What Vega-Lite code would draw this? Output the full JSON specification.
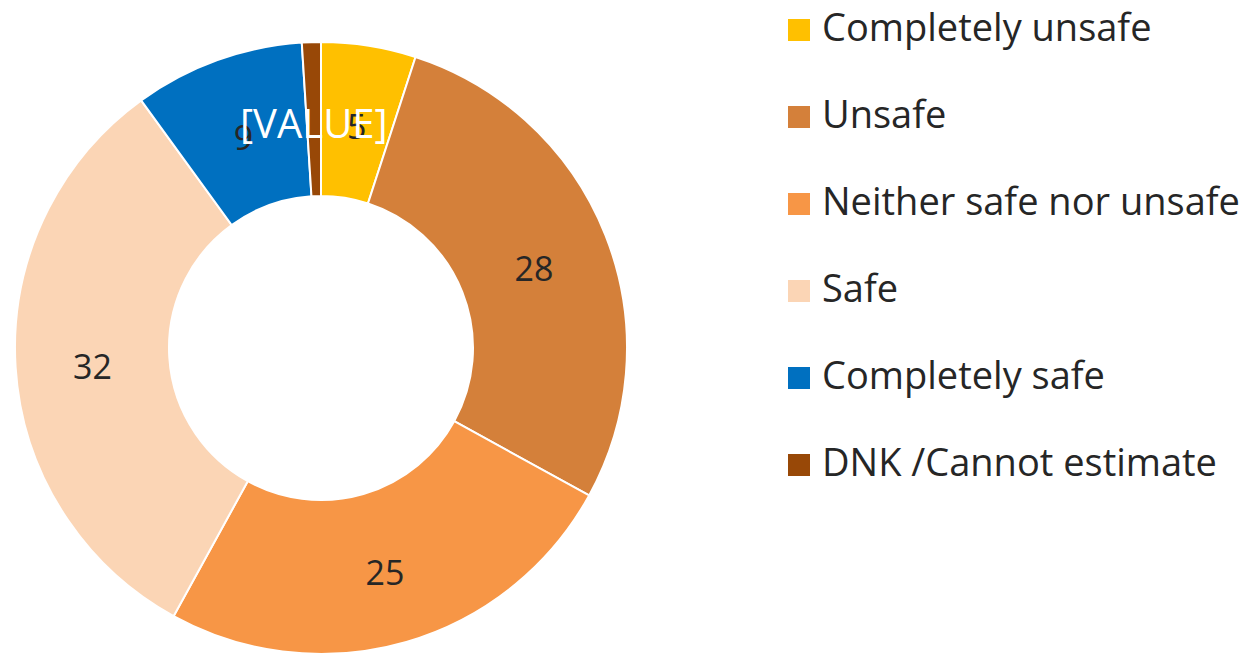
{
  "$schema": "https://vega.github.io/schema/vega-lite/v6.json",
  "width": 642,
  "height": 696,
  "padding": {"left": 0, "top": 0, "right": 605, "bottom": 0},
  "autosize": {"type": "none"},
  "background": "white",
  "config": {"view": {"stroke": null}, "font": "Open Sans"},
  "data": {
    "values": [
      {"category": "Completely unsafe", "value": 5, "order": 1, "label": "5"},
      {"category": "Unsafe", "value": 28, "order": 2, "label": "28"},
      {"category": "Neither safe nor unsafe", "value": 25, "order": 3, "label": "25"},
      {"category": "Safe", "value": 32, "order": 4, "label": "32"},
      {"category": "Completely safe", "value": 9, "order": 5, "label": "9"},
      {"category": "DNK /Cannot estimate", "value": 1, "order": 6, "label": "[VALUE]"}
    ]
  },
  "encoding": {
    "theta": {"field": "value", "type": "quantitative", "stack": true},
    "order": {"field": "order", "type": "quantitative"}
  },
  "layer": [
    {
      "mark": {"type": "arc", "outerRadius": 306, "innerRadius": 152, "stroke": "white", "strokeWidth": 2},
      "encoding": {
        "color": {
          "field": "category",
          "type": "nominal",
          "sort": ["Completely unsafe", "Unsafe", "Neither safe nor unsafe", "Safe", "Completely safe", "DNK /Cannot estimate"],
          "scale": {
            "domain": ["Completely unsafe", "Unsafe", "Neither safe nor unsafe", "Safe", "Completely safe", "DNK /Cannot estimate"],
            "range": ["#FFC000", "#D4803A", "#F79646", "#FBD5B5", "#0070C0", "#984807"]
          },
          "legend": {
            "title": null,
            "orient": "none",
            "legendX": 780,
            "legendY": 11,
            "symbolType": "square",
            "symbolSize": 484,
            "symbolStrokeWidth": 0,
            "labelFontSize": 38,
            "labelFont": "Open Sans",
            "labelColor": "#262626",
            "labelOffset": 4,
            "rowPadding": 49,
            "labelLimit": 500
          }
        }
      }
    },
    {
      "mark": {"type": "text", "radius": 229, "font": "Open Sans", "dy": 7},
      "encoding": {
        "text": {"field": "label"},
        "color": {"condition": {"test": "datum.category === 'DNK /Cannot estimate'", "value": "white"}, "value": "#262626"},
        "size": {"condition": {"test": "datum.category === 'DNK /Cannot estimate'", "value": 40}, "value": 34}
      }
    }
  ]
}
